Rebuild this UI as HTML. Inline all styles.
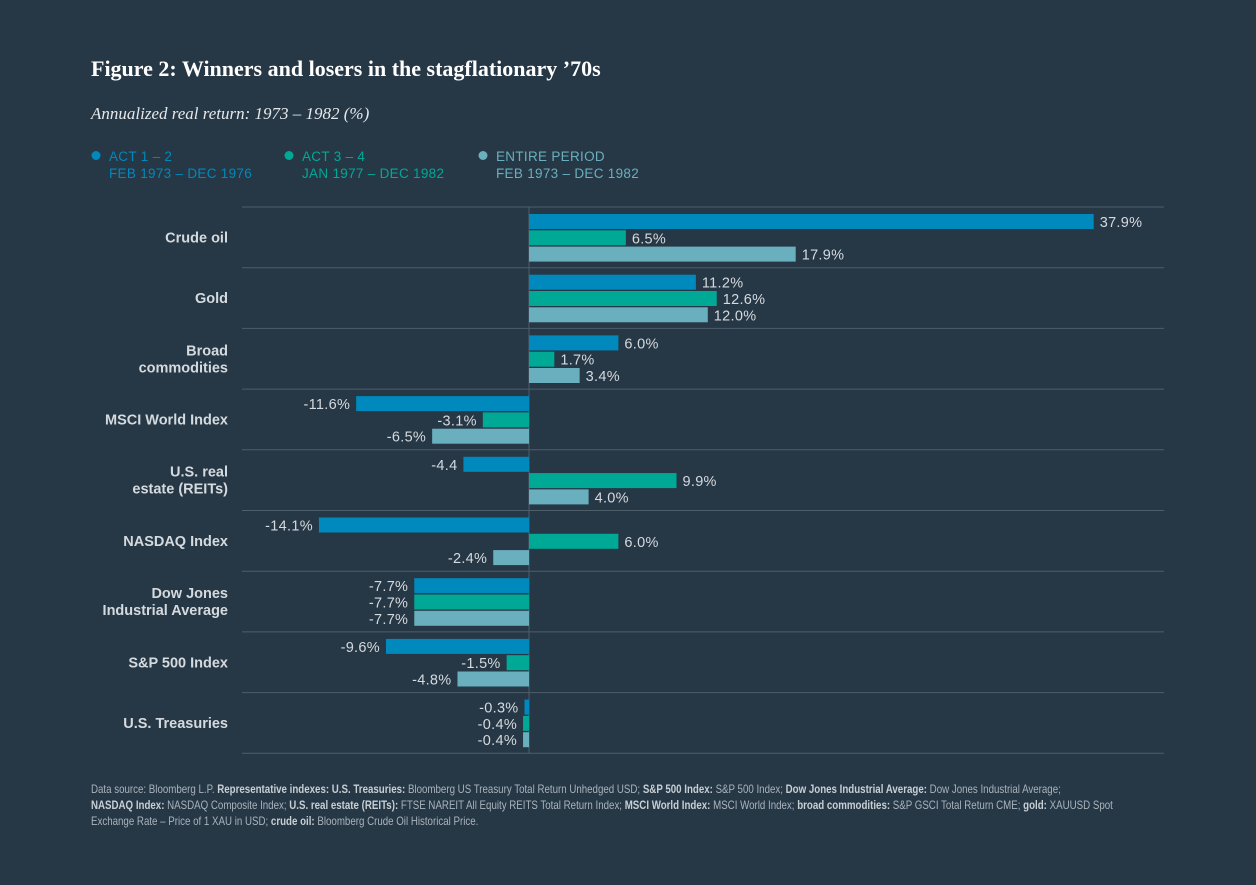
<!DOCTYPE html>
<html><head><meta charset="utf-8"><style>
body{margin:0;background:#263746;width:1256px;height:885px;overflow:hidden;font-family:"Liberation Sans",sans-serif;}
#t{position:absolute;left:91px;top:56px;font-family:"Liberation Serif",serif;font-weight:bold;font-size:22px;color:#fff;}
#st{position:absolute;left:91px;top:104px;font-family:"Liberation Serif",serif;font-style:italic;font-size:17px;color:#e6e9ec;}
#src{position:absolute;left:91px;top:781px;width:1310px;font-size:12px;line-height:16px;color:#aab4bd;transform:scaleX(0.81);transform-origin:0 0;}
#src b{color:#c8cfd5}
svg{position:absolute;left:0;top:0}
</style></head><body>
<div id="t">Figure 2: Winners and losers in the stagflationary ’70s</div>
<div id="st">Annualized real return: 1973 – 1982 (%)</div>
<svg id="c" width="1256" height="885"></svg>
<div id="src">Data source: Bloomberg L.P. <b>Representative indexes: U.S. Treasuries:</b> Bloomberg US Treasury Total Return Unhedged USD; <b>S&amp;P 500 Index:</b> S&amp;P 500 Index; <b>Dow Jones Industrial Average:</b> Dow Jones Industrial Average;<br><b>NASDAQ Index:</b> NASDAQ Composite Index; <b>U.S. real estate (REITs):</b> FTSE NAREIT All Equity REITS Total Return Index; <b>MSCI World Index:</b> MSCI World Index; <b>broad commodities:</b> S&amp;P GSCI Total Return CME; <b>gold:</b> XAUUSD Spot<br>Exchange Rate – Price of 1 XAU in USD; <b>crude oil:</b> Bloomberg Crude Oil Historical Price.</div>
<script>
const categories=[["Crude oil"],["Gold"],["Broad","commodities"],["MSCI World Index"],["U.S. real","estate (REITs)"],["NASDAQ Index"],["Dow Jones","Industrial Average"],["S&P 500 Index"],["U.S. Treasuries"]];
const act12=[37.9,11.2,6.0,-11.6,-4.4,-14.1,-7.7,-9.6,-0.3];
const act34=[6.5,12.6,1.7,-3.1,9.9,6.0,-7.7,-1.5,-0.4];
const entire=[17.9,12.0,3.4,-6.5,4.0,-2.4,-7.7,-4.8,-0.4];
const act12Labels=["37.9%","11.2%","6.0%","-11.6%","-4.4","-14.1%","-7.7%","-9.6%","-0.3%"];
const act34Labels=["6.5%","12.6%","1.7%","-3.1%","9.9%","6.0%","-7.7%","-1.5%","-0.4%"];
const entireLabels=["17.9%","12.0%","3.4%","-6.5%","4.0%","-2.4%","-7.7%","-4.8%","-0.4%"];
const seriesNames=[["ACT 1 – 2","FEB 1973 – DEC 1976"],["ACT 3 – 4","JAN 1977 – DEC 1982"],["ENTIRE PERIOD","FEB 1973 – DEC 1982"]];
const colors=["#0089bd","#00a996","#6aafbd"];
const ns="http://www.w3.org/2000/svg",svg=document.getElementById('c');
function mk(t,a,p){const e=document.createElementNS(ns,t);for(const k in a)e.setAttribute(k,a[k]);(p||svg).appendChild(e);return e;}
const x0=529,k=14.9,top0=207,rowH=60.7,left=242,right=1164;
const x=v=>x0+v*k;
const lx=[96,289,483];
seriesNames.forEach((s,i)=>{
 const g=mk('g',{});
 mk('circle',{cx:lx[i],cy:155.5,r:4.5,fill:colors[i]},g);
 s.forEach((l,j)=>{const t=mk('text',{x:lx[i]+13,y:161+j*17,fill:colors[i],'font-size':13.5,'letter-spacing':'0.3'},g);t.textContent=l;});
});
for(let i=0;i<=categories.length;i++){const l=mk('line',{x1:left,x2:right,y1:top0+i*rowH,y2:top0+i*rowH,stroke:'#4e5e6b','stroke-width':1});}
const zl=mk('line',{x1:x0,x2:x0,y1:top0,y2:top0+categories.length*rowH,stroke:'#4e5e6b','stroke-width':1});

const series=[[act12,act12Labels],[act34,act34Labels],[entire,entireLabels]];
categories.forEach((c,i)=>{
 const rt=top0+i*rowH,mid=rt+rowH/2;
 c.forEach((l,j)=>{const t=mk('text',{x:228,y:mid+5+(j-(c.length-1)/2)*17,'text-anchor':'end',fill:'#d5dade','font-size':14.5,'font-weight':'bold'});t.textContent=l;});
 series.forEach((s,si)=>{
  const v=s[0][i];if(v===null)return;
  const y=rt+7+si*16.3,xe=x(v);
  const r=mk('rect',{x:Math.min(x0,xe),y:y,width:Math.max(1.5,Math.abs(xe-x0)),height:15,fill:colors[si]});
  
  const pos=v>=0;
  const t=mk('text',{x:pos?Math.max(xe,x0)+6:Math.min(xe,x0)-6,y:y+13,'text-anchor':pos?'start':'end',fill:'#d5dade','font-size':14.5,'letter-spacing':'0.3'});
  t.textContent=s[1][i];
 });
});
</script>
</body></html>
